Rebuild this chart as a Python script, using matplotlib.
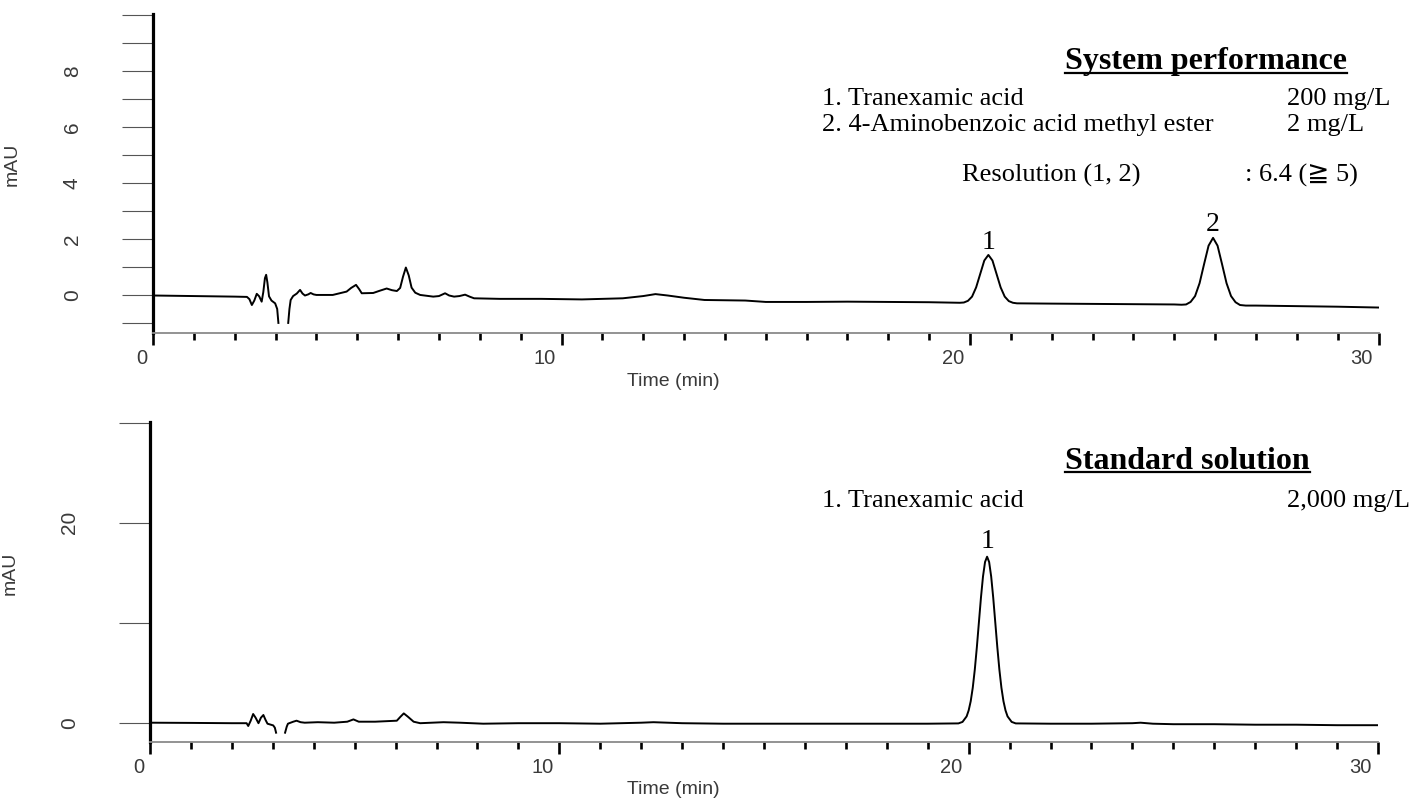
import numpy as np
import matplotlib
matplotlib.use("Agg")
import matplotlib.pyplot as plt
from matplotlib.lines import Line2D
from matplotlib.transforms import ScaledTranslation

nan = np.nan

# ---------------- data ----------------
top_time = [0.0, 1.0, 2.0, 2.3, 2.36, 2.42, 2.48, 2.54, 2.6, 2.66, 2.7, 2.74, 2.77, 2.8, 2.84,
            2.9, 2.99, 3.04, 3.07, 3.2, 3.31, 3.34, 3.37, 3.43, 3.52, 3.6, 3.66, 3.72, 3.8, 3.86,
            3.93, 4.0, 4.4, 4.74, 4.85, 4.97, 5.05, 5.11, 5.39, 5.55, 5.72, 5.85, 5.97, 6.05,
            6.12, 6.19, 6.26, 6.33, 6.42, 6.54, 6.86, 7.0, 7.15, 7.25, 7.37, 7.5, 7.64, 7.75,
            7.86, 8.49, 9.5, 10.5, 11.5, 12.0, 12.3, 12.6, 13.0, 13.5, 14.5, 15.0, 16.0, 17.0,
            18.0, 19.0, 19.75, 19.85, 19.95, 20.05, 20.15, 20.25, 20.35, 20.45, 20.55, 20.65,
            20.75, 20.85, 20.95, 21.05, 21.15, 22.0, 23.0, 24.0, 25.0, 25.18, 25.29, 25.40,
            25.51, 25.62, 25.73, 25.84, 25.95, 26.06, 26.17, 26.28, 26.39, 26.50, 26.61, 26.75,
            27.0, 28.0, 29.0, 30.0]
top_signal = [-0.02, -0.04, -0.06, -0.07, -0.15, -0.36, -0.20, 0.04, -0.05, -0.24, 0.10, 0.60,
              0.72, 0.45, -0.05, -0.20, -0.30, -0.50, -1.00, nan, -1.00, -0.50, -0.18, -0.04,
              0.05, 0.18, 0.05, -0.02, 0.02, 0.07, 0.02, 0.00, 0.00, 0.12, 0.25, 0.36, 0.20,
              0.06, 0.07, 0.15, 0.23, 0.17, 0.14, 0.25, 0.65, 0.98, 0.70, 0.26, 0.08, 0.00,
              -0.06, -0.04, 0.06, -0.02, -0.06, -0.04, 0.01, -0.06, -0.12, -0.14, -0.14, -0.16,
              -0.12, -0.04, 0.03, -0.02, -0.10, -0.18, -0.20, -0.25, -0.25, -0.24, -0.25, -0.26,
              -0.28, -0.27, -0.21, -0.06, 0.27, 0.75, 1.23, 1.43, 1.23, 0.75, 0.27, -0.06, -0.22,
              -0.28, -0.30, -0.31, -0.32, -0.33, -0.34, -0.35, -0.34, -0.25, -0.04, 0.42, 1.10,
              1.76, 2.04, 1.76, 1.10, 0.42, -0.04, -0.26, -0.36, -0.38, -0.38, -0.40, -0.42, -0.45]

bot_time = [0.0, 1.0, 2.0, 2.36, 2.4, 2.46, 2.52, 2.58, 2.65, 2.71, 2.77, 2.82, 2.87, 3.01, 3.05,
            3.08, 3.2, 3.3, 3.34, 3.37, 3.5, 3.58, 3.68, 3.78, 4.1, 4.5, 4.82, 4.97, 5.1, 5.5,
            6.03, 6.12, 6.2, 6.3, 6.44, 6.6, 7.17, 7.57, 8.14, 9.0, 10.0, 11.0, 12.0, 12.3,
            13.0, 14.0, 15.0, 16.0, 17.0, 18.0, 19.0, 19.75, 19.85, 19.95, 20.0, 20.05, 20.1,
            20.15, 20.2, 20.25, 20.3, 20.35, 20.4, 20.45, 20.5, 20.55, 20.6, 20.65, 20.7, 20.75,
            20.8, 20.85, 20.9, 20.95, 21.05, 21.15, 22.0, 23.0, 24.0, 24.2, 24.5, 25.0, 26.0,
            27.0, 28.0, 29.0, 30.0]
bot_signal = [0.0, -0.02, -0.05, -0.05, -0.33, 0.20, 0.87, 0.50, -0.05, 0.50, 0.77, 0.30, -0.10,
              -0.27, -0.50, -1.00, nan, -1.00, -0.40, -0.10, 0.10, 0.20, 0.05, 0.00, 0.05, 0.00,
              0.10, 0.33, 0.10, 0.10, 0.20, 0.60, 0.93, 0.60, 0.10, -0.05, 0.05, 0.00, -0.10,
              -0.05, -0.05, -0.10, 0.00, 0.05, -0.05, -0.10, -0.10, -0.10, -0.10, -0.10, -0.10,
              -0.07, 0.08, 0.63, 1.23, 2.15, 3.50, 5.32, 7.55, 10.03, 12.50, 14.62, 16.07, 16.60,
              16.07, 14.62, 12.50, 10.03, 7.55, 5.32, 3.50, 2.15, 1.23, 0.63, 0.08, -0.07, -0.10,
              -0.10, -0.05, 0.00, -0.10, -0.15, -0.15, -0.20, -0.20, -0.25, -0.25]

x_major = [0, 10, 20, 30]
x_labels = ["0", "10", "20", "30"]
top_y_major = [0, 2, 4, 6, 8]
top_y_labels = ["0", "2", "4", "6", "8"]
top_y_minor = [-1, 1, 3, 5, 7, 9, 10]
bot_y_major = [0, 20]
bot_y_labels = ["0", "20"]
bot_y_minor = [10, 30]

top_peaks = ["1", "2"]
top_peak_time = [20.45, 25.95]
top_peak_label_y = [1.89, 2.50]
bot_peaks = ["1"]
bot_peak_time = [20.45]
bot_peak_label_y = [18.1]

top_title = "System performance"
top_compounds = ["1. Tranexamic acid", "2. 4-Aminobenzoic acid methyl ester"]
top_conc = ["200 mg/L", "2 mg/L"]
top_res_label = "Resolution (1, 2)"
top_res_value = ": 6.4 (\u2267 5)"
bot_title = "Standard solution"
bot_compounds = ["1. Tranexamic acid"]
bot_conc = ["2,000 mg/L"]

# ---------------- figure ----------------
W, H = 1410, 800
fig = plt.figure(figsize=(W / 100, H / 100), dpi=100)

def fx(px):
    return px / W

def fy(py):
    return 1 - py / H

SANS = ["Liberation Sans", "DejaVu Sans"]
SERIF = ["Liberation Serif", "DejaVu Serif", "DejaVu Sans"]
GRAY = "#3a3a3a"

def setup(ax, ylim, ymaj, ylab, ymin):
    ax.set_xlim(0, 30)
    ax.set_ylim(*ylim)
    for s in ("top", "right"):
        ax.spines[s].set_visible(False)
    ax.spines["left"].set_linewidth(2.3)
    ax.spines["left"].set_color("black")
    ax.spines["bottom"].set_linewidth(1.3)
    ax.spines["bottom"].set_color("#8a8a8a")
    ax.set_xticks(x_major)
    ax.set_xticklabels(x_labels)
    ax.set_xticks(range(1, 30), minor=True)
    ax.tick_params(axis="x", which="major", direction="out", length=8.6, width=1.9,
                   color="black", pad=3.0, labelsize=14.5, labelcolor=GRAY)
    ax.tick_params(axis="x", which="minor", direction="out", length=5, width=1.9,
                   color="black")
    off = ScaledTranslation(-6 / 100, 0, fig.dpi_scale_trans)
    for lab in ax.get_xticklabels():
        lab.set_horizontalalignment("right")
        lab.set_fontfamily(SANS)
        lab.set_transform(lab.get_transform() + off)
    ax.set_yticks(ymaj)
    ax.set_yticklabels(ylab, rotation=90, va="center")
    ax.set_yticks(ymin, minor=True)
    ax.tick_params(axis="y", which="both", direction="out", length=22.3, width=0.8,
                   color="#555555")
    ax.tick_params(axis="y", which="major", pad=29, labelsize=15, labelcolor=GRAY)
    for lab in ax.get_yticklabels():
        lab.set_fontfamily(SANS)
    ax.patch.set_visible(False)

ax1 = fig.add_axes([fx(153), fy(333), fx(1378.5 - 153), (333 - 14) / H])
setup(ax1, (-1.36, 10.04), top_y_major, top_y_labels, top_y_minor)
ax1.plot(top_time, top_signal, color="black", lw=1.4, solid_joinstyle="round")

ax2 = fig.add_axes([fx(150), fy(742), fx(1378 - 150), (742 - 422) / H])
setup(ax2, (-1.93, 30.07), bot_y_major, bot_y_labels, bot_y_minor)
ax2.plot(bot_time, bot_signal, color="black", lw=1.4, solid_joinstyle="round")

# peak numbers
for lab, t, y in zip(top_peaks, top_peak_time, top_peak_label_y):
    ax1.text(t, y, lab, ha="center", va="center", fontsize=20, family=SERIF)
for lab, t, y in zip(bot_peaks, bot_peak_time, bot_peak_label_y):
    ax2.text(t, y, lab, ha="center", va="center", fontsize=20, family=SERIF)

# axis labels
for py in (381, 789):
    fig.text(fx(673), fy(py), "Time (min)", ha="center", va="center", fontsize=14,
             color=GRAY, family=SANS)
for px, py in ((12, 164), (10, 573)):
    fig.text(fx(px), fy(py), "mAU", ha="center", va="center", rotation=90,
             fontsize=14, color=GRAY, family=SANS)

# annotation blocks
titles = []
titles.append(fig.text(fx(1065), fy(69), top_title, ha="left", va="baseline",
                       fontsize=23, fontweight="bold", family=SERIF))
for i, (c, q) in enumerate(zip(top_compounds, top_conc)):
    yb = [105, 131][i]
    fig.text(fx(822), fy(yb), c, ha="left", va="baseline", fontsize=19, family=SERIF)
    fig.text(fx(1287), fy(yb), q, ha="left", va="baseline", fontsize=19, family=SERIF)
fig.text(fx(962), fy(182), top_res_label, ha="left", va="baseline", fontsize=19, family=SERIF)
fig.text(fx(1245), fy(182), top_res_value, ha="left", va="baseline", fontsize=19, family=SERIF)

titles.append(fig.text(fx(1065), fy(469), bot_title, ha="left", va="baseline",
                       fontsize=23, fontweight="bold", family=SERIF))
for c, q in zip(bot_compounds, bot_conc):
    fig.text(fx(822), fy(507), c, ha="left", va="baseline", fontsize=19, family=SERIF)
    fig.text(fx(1287), fy(507), q, ha="left", va="baseline", fontsize=19, family=SERIF)

# underline the bold titles
fig.canvas.draw()
r = fig.canvas.get_renderer()
for t, yu in zip(titles, (72.5, 472.5)):
    bb = t.get_window_extent(r)
    fig.add_artist(Line2D([bb.x0 / W, bb.x1 / W], [fy(yu), fy(yu)], transform=fig.transFigure,
                          color="black", lw=1.6))

fig.savefig("out.png", dpi=100)
